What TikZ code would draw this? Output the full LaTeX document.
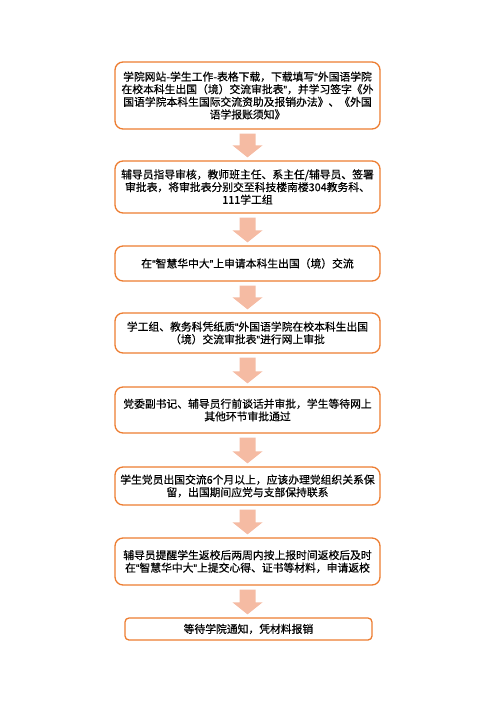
\documentclass[tikz,border=0pt]{standalone}
\usepackage{fontspec}
\setmainfont{Noto Sans CJK SC}[FakeBold=0.5]
\newfontfamily\quotefont{Liberation Sans}[FakeBold=0.5]
\newcommand\qopen{{\quotefont “}}
\newcommand\qclose{{\quotefont ”}}
\usetikzlibrary{calc}
\definecolor{boxline}{HTML}{ED7D31}
\definecolor{arrowfill}{HTML}{F5BBA3}
\tikzset{
  stepbox/.style={draw=boxline, line width=1.3pt, rounded corners=8pt, fill=white,
    align=center, inner sep=0pt, minimum width=265pt,
    font=\fontsize{10.8}{12.6}\selectfont},
  blockarrow/.style={fill=arrowfill, draw=none}
}
\newcommand\flowarrow[2]{%
  \fill[blockarrow] let \p1=(#1.south), \p2=(#2.north) in
    (\x1-8pt,\y1-4pt) -- (\x1+8pt,\y1-4pt) -- (\x1+8pt,\y2+15pt) -- (\x1+15pt,\y2+15pt)
    -- (\x1,\y2+3pt) -- (\x1-15pt,\y2+15pt) -- (\x1-8pt,\y2+15pt) -- cycle;}
\begin{document}
\begin{tikzpicture}[x=1pt,y=-1pt]
\useasboundingbox (0,0) rectangle (496,702);
\node[stepbox, minimum height=67pt] (b1) at (247.5,95.5) {学院网站-学生工作-表格下载，下载填写\qopen 外国语学院\\在校本科生出国（境）交流审批表\qclose，并学习签字《外\\国语学院本科生国际交流资助及报销办法》、《外国\\语学报账须知》};
\node[stepbox, minimum height=52pt] (b2) at (247.5,187) {辅导员指导审核，教师班主任、系主任/辅导员、签署\\审批表，将审批表分别交至科技楼南楼304教务科、\\111学工组};
\node[stepbox, minimum height=35pt] (b3) at (247.5,263.5) {在\qopen 智慧华中大\qclose 上申请本科生出国（境）交流};
\node[stepbox, minimum height=40pt] (b4) at (247.5,333) {学工组、教务科凭纸质\qopen 外国语学院在校本科生出国\\（境）交流审批表\qclose 进行网上审批};
\node[stepbox, minimum height=46pt] (b5) at (247.5,410) {党委副书记、辅导员行前谈话并审批，学生等待网上\\其他环节审批通过};
\node[stepbox, minimum height=38pt] (b6) at (247.5,486) {学生党员出国交流6个月以上，应该办理党组织关系保\\留，出国期间应党与支部保持联系};
\node[stepbox, minimum height=47pt] (b7) at (247.5,561.5) {辅导员提醒学生返校后两周内按上报时间返校后及时\\在\qopen 智慧华中大\qclose 上提交心得、证书等材料，申请返校};
\node[stepbox, minimum height=22pt, minimum width=247pt, rounded corners=4pt] (b8) at (248.5,629) {等待学院通知，凭材料报销};
\flowarrow{b1}{b2}
\flowarrow{b2}{b3}
\flowarrow{b3}{b4}
\flowarrow{b4}{b5}
\flowarrow{b5}{b6}
\flowarrow{b6}{b7}
\flowarrow{b7}{b8}
\end{tikzpicture}
\end{document}
